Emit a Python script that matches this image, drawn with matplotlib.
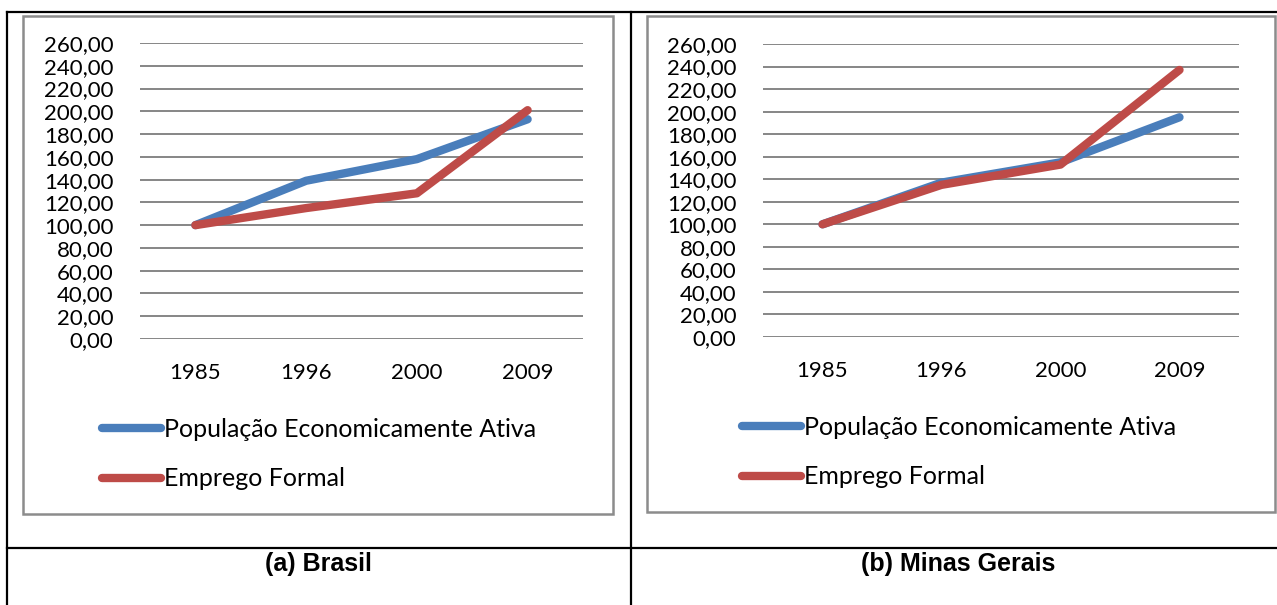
import matplotlib
matplotlib.use('Agg')
import matplotlib.pyplot as plt
from matplotlib.lines import Line2D
from matplotlib.patches import Rectangle

# index series (1985 = 100)
years = ['1985', '1996', '2000', '2009']
yticks = list(range(0, 261, 20))

pea_brasil = [100, 139, 158, 193]
emprego_brasil = [100, 115, 128, 201]

pea_mg = [100, 137, 155, 195]
emprego_mg = [100, 135, 153, 237]

panel_titles = ['(a) Brasil', '(b) Minas Gerais']
series_names = ['População Economicamente Ativa', 'Emprego Formal']
colors = ['#4A7EBB', '#BE4B48']

W, H = 1277, 605
fig = plt.figure(figsize=(W / 100, H / 100), dpi=100)
fig.patch.set_facecolor('white')


def px_rect(x0, y0, x1, y1):
    # pixel box (top-left origin) -> figure fraction [l, b, w, h]
    return [x0 / W, (H - y1) / H, (x1 - x0) / W, (y1 - y0) / H]


def hline(x0, x1, y, **kw):
    fig.add_artist(Line2D([x0 / W, x1 / W], [(H - y) / H, (H - y) / H],
                          transform=fig.transFigure, **kw))


def vline(x, y0, y1, **kw):
    fig.add_artist(Line2D([x / W, x / W], [(H - y0) / H, (H - y1) / H],
                          transform=fig.transFigure, **kw))


# table rules
tbl = dict(color='black', lw=1.6)
hline(7, W, 12, **tbl)
hline(7, W, 548, **tbl)
vline(7, 12, H, **tbl)
vline(631, 12, H, **tbl)

# chart frames
frames = [(23, 16, 613, 514), (647, 16, 1275, 512)]
for x0, y0, x1, y1 in frames:
    fig.add_artist(Rectangle((x0 / W, (H - y1) / H), (x1 - x0) / W, (y1 - y0) / H,
                             transform=fig.transFigure, fill=False,
                             edgecolor='#8C8C8C', lw=1.8))

panels = [
    dict(box=(140, 43, 583, 339), data=(pea_brasil, emprego_brasil),
         leg=(102, 418), cap=(318, 564)),
    dict(box=(763, 44, 1239, 337), data=(pea_mg, emprego_mg),
         leg=(742, 416), cap=(958, 564)),
]

font = 'Lato'
for p, title in zip(panels, panel_titles):
    ax = fig.add_axes(px_rect(*p['box']))
    x = range(len(years))
    handles = []
    for vals, c, name in zip(p['data'], colors, series_names):
        h, = ax.plot(x, vals, color=c, lw=6, solid_capstyle='round',
                     solid_joinstyle='round', label=name, zorder=3)
        handles.append(h)
    ax.set_xlim(-0.5, len(years) - 0.5)
    ax.set_ylim(0, 260)
    ax.set_yticks(yticks)
    ax.set_yticklabels([f'{v},00' for v in yticks], fontfamily=font, fontsize=16)
    ax.set_xticks(list(x))
    ax.set_xticklabels(years, fontfamily=font, fontsize=16)
    ax.tick_params(axis='y', length=0, pad=19)
    ax.tick_params(axis='x', length=0, pad=17)
    ax.grid(axis='y', color='#868686', lw=1.4)
    ax.set_axisbelow(True)
    for s in ax.spines.values():
        s.set_visible(False)

    lx, ly = p['leg']
    fig.legend(handles=handles, loc='upper left',
               bbox_to_anchor=(lx / W, (H - ly) / H), frameon=False,
               prop=dict(family=font, size=18), handlelength=2.35,
               handletextpad=0.15, labelspacing=1.05, borderaxespad=0,
               borderpad=0)

    cx, cy = p['cap']
    fig.text(cx / W, (H - cy) / H, title, ha='center', va='center',
             fontfamily='Liberation Sans', fontweight='bold', fontsize=18)

fig.savefig('out.png', dpi=100, facecolor='white')
